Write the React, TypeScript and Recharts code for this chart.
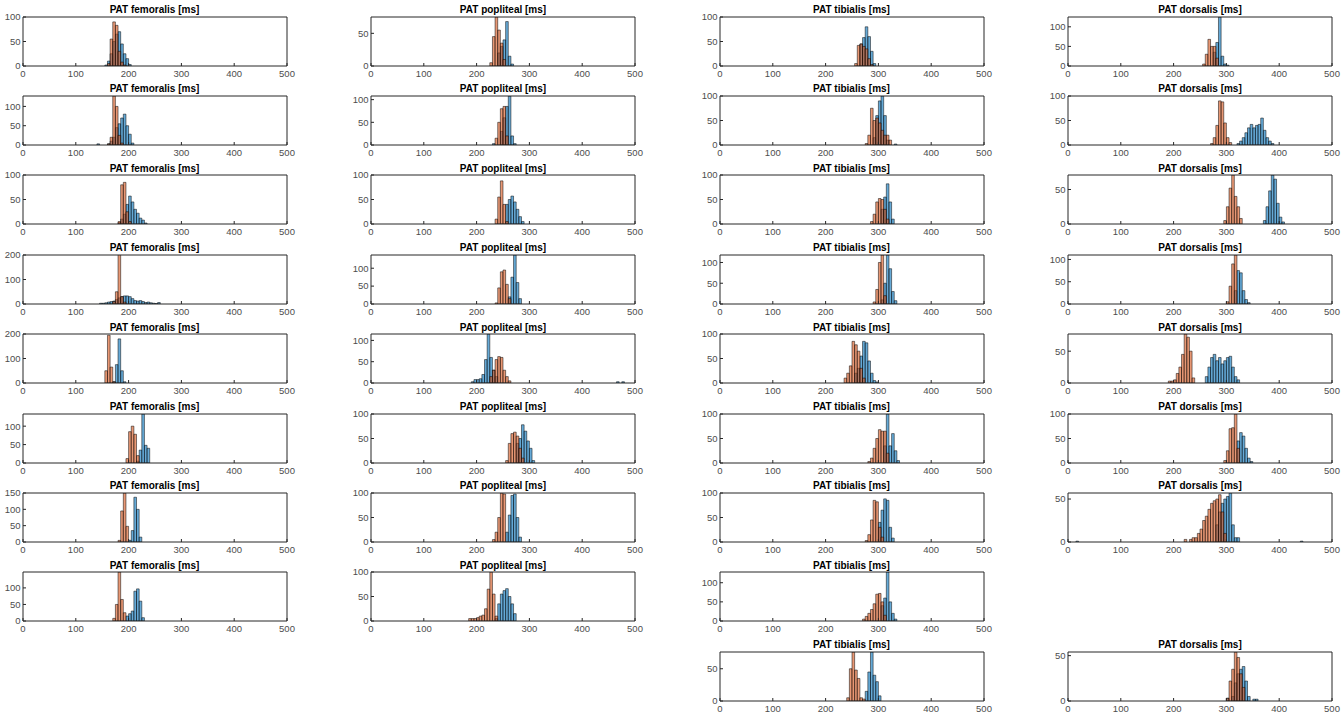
import React from "react";
import { ComposedChart, Bar, Line, XAxis, YAxis } from "recharts";

type Seg = [number, number[]];

// ---------- data ----------
const BIN = 5;
const X_MAX = 500;
const X_TICKS = [0, 100, 200, 300, 400, 500];
const TITLES = ["PAT femoralis [ms]", "PAT popliteal [ms]", "PAT tibialis [ms]", "PAT dorsalis [ms]"];

// femoralis
const FEM_ROWS = [0, 1, 2, 3, 4, 5, 6, 7];
const FEM_BLUE: Seg[][] = [
  [[155, [2, 10, 25, 50, 65, 70, 45, 25, 15, 3]]],
  [[140, [3]], [160, [3, 10, 20, 45, 55, 70, 80, 50, 28, 5]]],
  [[180, [3, 10, 20, 40, 57, 45, 30, 22, 12, 8, 2]]],
  [[145, [3, 3, 5, 8, 10, 12, 18, 25, 30, 33, 33, 30, 22, 14, 12, 14, 10, 6, 8, 5, 3, 2, 6]]],
  [[170, [5, 75, 180, 50, 5]]],
  [[215, [5, 35, 133, 48, 40]]],
  [[200, [5, 35, 137, 100, 15]]],
  [[195, [15, 22, 30, 90, 97, 60, 10]]],
];
const FEM_ORANGE: Seg[][] = [
  [[160, [5, 55, 90, 83, 30, 8, 2]]],
  [[160, [3, 20, 127, 100, 25, 5]]],
  [[180, [5, 80, 85, 25, 5]]],
  [[170, [10, 50, 210, 30, 8]]],
  [[155, [50, 195, 65, 5]]],
  [[195, [12, 85, 100, 78, 20]]],
  [[180, [5, 95, 150, 48]]],
  [[170, [8, 50, 148, 65, 25]]],
];
const FEM_YMAX = [100, 127, 100, 200, 200, 133, 150, 148];
const FEM_YTICKS = [
  [0, 50, 100], [0, 50, 100], [0, 50, 100], [0, 100, 200],
  [0, 100, 200], [0, 50, 100], [0, 50, 100, 150], [0, 50, 100],
];

// popliteal
const POP_ROWS = [0, 1, 2, 3, 4, 5, 6, 7];
const POP_BLUE: Seg[][] = [
  [[240, [20, 30, 40, 68, 15, 3]]],
  [[230, [3, 0, 0, 30, 60, 85, 108, 20, 3]]],
  [[255, [40, 50, 57, 45, 30, 15, 5]]],
  [[260, [20, 75, 137, 60, 15]]],
  [[190, [3, 8, 8, 10, 20, 55, 115, 60, 30, 15]], [465, [3, 0, 3]]],
  [[275, [40, 50, 78, 65, 45, 30, 5]]],
  [[255, [20, 55, 95, 98, 50, 10]]],
  [[235, [5, 35, 55, 62, 66, 50, 35, 15]]],
];
const POP_ORANGE: Seg[][] = [
  [[225, [5, 45, 75, 55, 35, 10]]],
  [[235, [15, 50, 80, 85, 20]]],
  [[235, [10, 55, 88, 40, 5]]],
  [[235, [3, 45, 90, 95, 55, 15]]],
  [[225, [15, 30, 55, 62, 60, 30, 15, 5]]],
  [[255, [5, 40, 60, 63, 55, 30, 10]]],
  [[230, [5, 20, 50, 100, 98]]],
  [[185, [5, 5, 5, 7, 10, 12, 25, 65, 100, 55, 10]]],
];
const POP_YMAX = [75, 108, 100, 137, 115, 100, 100, 100];
const POP_YTICKS = [
  [0, 50], [0, 50, 100], [0, 50, 100], [0, 50, 100],
  [0, 50, 100], [0, 50, 100], [0, 50, 100], [0, 50, 100],
];

// tibialis
const TIB_ROWS = [0, 1, 2, 3, 4, 5, 6, 7, 8];
const TIB_BLUE: Seg[][] = [
  [[265, [45, 58, 80, 60, 30, 5]]],
  [[290, [15, 60, 90, 100, 60, 10, 0, 0, 2]]],
  [[305, [30, 55, 82, 45, 10]]],
  [[305, [10, 50, 118, 85, 30, 8]]],
  [[255, [20, 30, 55, 85, 82, 45, 20, 5, 2]]],
  [[310, [35, 100, 35, 60, 25, 5]]],
  [[300, [40, 65, 88, 85, 30, 8]]],
  [[305, [40, 60, 128, 50, 20, 5]]],
  [[275, [15, 45, 76, 40, 30, 8]]],
];
const TIB_ORANGE: Seg[][] = [
  [[255, [5, 42, 45, 40, 35, 15, 3]]],
  [[275, [3, 20, 75, 50, 55, 45, 30, 20, 20, 10]]],
  [[285, [5, 20, 45, 52, 50, 30, 10]]],
  [[290, [5, 35, 100, 118, 20]]],
  [[235, [10, 20, 35, 85, 78, 65, 30, 10]]],
  [[280, [3, 10, 30, 50, 68, 65, 65, 20]]],
  [[275, [3, 15, 45, 85, 82, 30, 10]]],
  [[270, [5, 12, 20, 30, 45, 70, 72, 50, 15]]],
  [[240, [5, 50, 76, 48, 35, 5, 3]]],
];
const TIB_YMAX = [100, 100, 100, 118, 100, 100, 100, 128, 76];
const TIB_YTICKS = [
  [0, 50, 100], [0, 50, 100], [0, 50, 100], [0, 50, 100], [0, 50, 100],
  [0, 50, 100], [0, 50, 100], [0, 50, 100], [0, 50],
];

// dorsalis
const DOR_ROWS = [0, 1, 2, 3, 4, 5, 6, 8];
const DOR_BLUE: Seg[][] = [
  [[275, [35, 60, 125, 25, 5, 2]]],
  [[320, [3, 8, 15, 25, 35, 42, 35, 40, 42, 55, 30, 15, 8, 3]]],
  [[370, [5, 25, 48, 71, 65, 30, 10, 3]]],
  [[315, [30, 75, 70, 30, 10, 3]]],
  [[260, [10, 25, 40, 45, 35, 40, 30, 35, 40, 42, 25, 10, 5]]],
  [[320, [45, 62, 55, 30, 10, 3]]],
  [[15, [1]], [280, [20, 35, 45, 50, 53, 57, 20, 5, 5]], [440, [1]]],
  [[300, [3, 0, 5, 20, 30, 35, 38, 22, 5, 0, 2, 2]]],
];
const DOR_ORANGE: Seg[][] = [
  [[255, [5, 30, 68, 50, 50, 20]]],
  [[270, [3, 15, 40, 90, 88, 45, 15, 5]]],
  [[295, [5, 25, 52, 71, 40, 25, 8]]],
  [[300, [5, 40, 90, 110]]],
  [[190, [3, 3, 5, 15, 25, 45, 77, 72, 50, 8]]],
  [[295, [5, 25, 70, 72, 100, 30]]],
  [[220, [3, 0, 3, 5, 5, 10, 15, 25, 30, 38, 45, 48, 50, 55, 35, 10]]],
  [[300, [3, 22, 35, 54, 48, 30, 15]]],
];
const DOR_YMAX = [125, 100, 71, 110, 77, 100, 57, 54];
const DOR_YTICKS = [
  [0, 50, 100], [0, 50, 100], [0, 50], [0, 50, 100],
  [0, 50], [0, 50, 100], [0, 50], [0, 50],
];

// ---------- layout ----------
const PLOT_W = 264;
const PLOT_H = 49;
const Y_AXIS_W = 30;
const X_AXIS_H = 16;
const TOP_AX_H = 1;
const RIGHT_AX_W = 1;
const M_TOP = 7;
const M_RIGHT = 14;
const COL_X0 = 22.5;
const COL_STEP = 348.5;
const ROW_Y0 = 16.5;
const ROW_STEP = 79.4;
const BAR_PX = (PLOT_W * BIN) / X_MAX * 0.999;

const BLUE = "#0072BD";
const ORANGE = "#D95319";
const AXIS = "#262626";
const TICK_TEXT = "#4d4d4d";
const FONT = "'Liberation Sans', Arial, Helvetica, sans-serif";

function toBins(blue: Seg[], orange: Seg[]) {
  const n = X_MAX / BIN;
  const rows = Array.from({ length: n }, (_, i) => ({ x0: i * BIN, blue: 0, orange: 0 }));
  const put = (segs: Seg[], key: "blue" | "orange") =>
    segs.forEach(([start, counts]) =>
      counts.forEach((c, j) => {
        const idx = Math.round(start / BIN) + j;
        if (idx >= 0 && idx < n) rows[idx][key] = c;
      })
    );
  put(blue, "blue");
  put(orange, "orange");
  return rows;
}

type PanelProps = {
  title: string;
  left: number;
  top: number;
  blue: Seg[];
  orange: Seg[];
  yMax: number;
  yTicks: number[];
};

function Panel({ title, left, top, blue, orange, yMax, yTicks }: PanelProps) {
  const data = toBins(blue, orange);
  const tickStyle = { fontSize: 9.5, fill: TICK_TEXT, fontFamily: FONT };
  const plotTopInChart = M_TOP + TOP_AX_H;
  return (
    <div style={{ position: "absolute", left: left - Y_AXIS_W, top: top - plotTopInChart }}>
      <ComposedChart
        width={Y_AXIS_W + PLOT_W + RIGHT_AX_W + M_RIGHT}
        height={plotTopInChart + PLOT_H + X_AXIS_H}
        data={data}
        margin={{ top: M_TOP, right: M_RIGHT, bottom: 0, left: 0 }}
        barCategoryGap={0}
        barGap={0}
      >
        <XAxis
          xAxisId="n"
          dataKey="x0"
          type="number"
          domain={[0, X_MAX]}
          ticks={X_TICKS}
          interval={0}
          allowDataOverflow
          height={X_AXIS_H}
          tickSize={-3}
          tickMargin={7}
          stroke={AXIS}
          tick={tickStyle}
        />
        <XAxis xAxisId="ba" dataKey="x0" type="category" hide height={0} />
        <XAxis xAxisId="bb" dataKey="x0" type="category" hide height={0} />
        <XAxis
          xAxisId="t"
          orientation="top"
          dataKey="x0"
          type="number"
          domain={[0, X_MAX]}
          ticks={X_TICKS}
          interval={0}
          allowDataOverflow
          height={TOP_AX_H}
          tickSize={-3}
          tick={false}
          stroke={AXIS}
        />
        <YAxis
          yAxisId="l"
          type="number"
          domain={[0, yMax]}
          ticks={yTicks}
          interval={0}
          allowDataOverflow
          width={Y_AXIS_W}
          tickSize={-3}
          tickMargin={5.5}
          stroke={AXIS}
          tick={tickStyle}
        />
        <YAxis
          yAxisId="r"
          orientation="right"
          type="number"
          domain={[0, yMax]}
          ticks={yTicks}
          interval={0}
          allowDataOverflow
          width={RIGHT_AX_W}
          tickSize={-3}
          tick={false}
          stroke={AXIS}
        />
        <Bar
          xAxisId="ba"
          yAxisId="l"
          dataKey="blue"
          fill={BLUE}
          fillOpacity={0.6}
          stroke="#000"
          strokeWidth={0.5}
          barSize={BAR_PX}
          isAnimationActive={false}
        />
        <Bar
          xAxisId="bb"
          yAxisId="l"
          dataKey="orange"
          fill={ORANGE}
          fillOpacity={0.6}
          stroke="#000"
          strokeWidth={0.5}
          barSize={BAR_PX}
          isAnimationActive={false}
        />
        {/* invisible series so the frame axes (bottom, top, right) get drawn */}
        <Line
          xAxisId="n"
          yAxisId="r"
          dataKey="blue"
          stroke="none"
          dot={false}
          activeDot={false}
          isAnimationActive={false}
        />
        <Line
          xAxisId="t"
          yAxisId="l"
          dataKey="orange"
          stroke="none"
          dot={false}
          activeDot={false}
          isAnimationActive={false}
        />
      </ComposedChart>
      <div
        style={{
          position: "absolute",
          left: Y_AXIS_W,
          width: PLOT_W,
          top: plotTopInChart - 12.5,
          textAlign: "center",
          fontSize: 10,
          lineHeight: "12px",
          fontWeight: "bold",
          fontFamily: FONT,
          color: "#000",
          whiteSpace: "nowrap",
        }}
      >
        {title}
      </div>
    </div>
  );
}

const COLUMNS = [
  { title: TITLES[0], rows: FEM_ROWS, blue: FEM_BLUE, orange: FEM_ORANGE, yMax: FEM_YMAX, yTicks: FEM_YTICKS },
  { title: TITLES[1], rows: POP_ROWS, blue: POP_BLUE, orange: POP_ORANGE, yMax: POP_YMAX, yTicks: POP_YTICKS },
  { title: TITLES[2], rows: TIB_ROWS, blue: TIB_BLUE, orange: TIB_ORANGE, yMax: TIB_YMAX, yTicks: TIB_YTICKS },
  { title: TITLES[3], rows: DOR_ROWS, blue: DOR_BLUE, orange: DOR_ORANGE, yMax: DOR_YMAX, yTicks: DOR_YTICKS },
];

export default function App() {
  return (
    <div
      style={{
        position: "absolute",
        left: 0,
        top: 0,
        width: 1344,
        height: 720,
        background: "#fff",
        overflow: "hidden",
        fontFamily: FONT,
      }}
    >
      {COLUMNS.map((col, c) =>
        col.rows.map((r, i) => (
          <Panel
            key={`${c}-${i}`}
            title={col.title}
            left={COL_X0 + COL_STEP * c}
            top={ROW_Y0 + ROW_STEP * r}
            blue={col.blue[i]}
            orange={col.orange[i]}
            yMax={col.yMax[i]}
            yTicks={col.yTicks[i]}
          />
        ))
      )}
    </div>
  );
}
